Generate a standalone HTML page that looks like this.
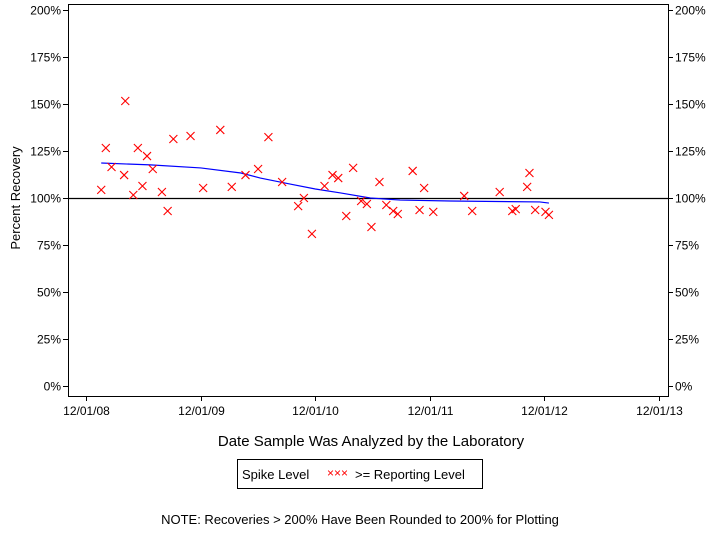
<!DOCTYPE html>
<html><head><meta charset="utf-8"><style>
body{margin:0;background:#fff;width:720px;height:528px;overflow:hidden;font-family:"Liberation Sans",sans-serif}
svg text{font-family:"Liberation Sans",sans-serif}
</style></head><body>
<svg id="chart" width="720" height="528">
<g id="axes"></g><g id="marks"></g>
<text x="371" y="446" font-size="15" text-anchor="middle">Date Sample Was Analyzed by the Laboratory</text>
<text transform="translate(20,198) rotate(-90)" font-size="13" text-anchor="middle">Percent Recovery</text>
<g>
<rect x="237.5" y="459.5" width="245" height="29" fill="none" stroke="#000"/>
<text x="242" y="479" font-size="13">Spike Level</text>
<text x="327" y="477" font-size="12" fill="#f00">×××</text>
<text x="355" y="479" font-size="13">&gt;= Reporting Level</text>
</g>
<text x="360" y="524" font-size="13" text-anchor="middle">NOTE: Recoveries &gt; 200% Have Been Rounded to 200% for Plotting</text>
</svg>
<script>
const xTickLabels=["12/01/08","12/01/09","12/01/10","12/01/11","12/01/12","12/01/13"];
const xTickYears=[2008.917,2009.917,2010.917,2011.917,2012.917,2013.917];
const yTicks=[0,25,50,75,100,125,150,175,200];
const sampleYears=[2009.05,2009.09,2009.14,2009.25,2009.26,2009.33,2009.37,2009.41,2009.45,2009.50,2009.58,2009.63,2009.68,2009.83,2009.94,2010.09,2010.19,2010.31,2010.42,2010.51,2010.63,2010.77,2010.82,2010.89,2011.00,2011.07,2011.12,2011.19,2011.25,2011.32,2011.37,2011.41,2011.48,2011.54,2011.60,2011.64,2011.77,2011.83,2011.87,2011.95,2012.22,2012.29,2012.53,2012.64,2012.67,2012.77,2012.79,2012.84,2012.93,2012.96];
const recoveries=[104.3,126.6,116.5,112.2,151.6,101.6,126.6,106.4,122.3,115.4,103.2,93.1,131.4,133.0,105.3,136.2,105.9,112.2,115.4,132.4,108.5,95.7,100.0,80.9,106.4,112.2,110.6,90.4,116.0,98.4,96.8,84.6,108.5,96.3,93.1,91.5,114.4,93.6,105.3,92.6,101.1,93.1,103.2,93.1,94.1,105.9,113.3,93.6,92.6,91.0];
const trendYears=[2009.05,2009.48,2009.92,2010.27,2010.44,2010.70,2010.92,2011.14,2011.40,2011.66,2012.10,2012.88,2012.96];
const trendValues=[118.6,117.6,116.0,113.3,110.6,107.4,104.8,102.7,100.0,98.9,98.4,97.9,97.3];
const NS="http://www.w3.org/2000/svg";
const L=68,R=668,T=4,B=396;
function xs(y){return 86+(y-2008.917)*114.5;}
function ys(p){return 386-p*1.88;}
const ax=document.getElementById('axes'),mk=document.getElementById('marks');
function mk_(tag,attrs,parent){const e=document.createElementNS(NS,tag);for(const k in attrs)e.setAttribute(k,attrs[k]);parent.appendChild(e);return e;}
const frame=mk_('rect',{x:L+.5,y:T+.5,width:R-L,height:B-T,fill:'none',stroke:'#000'},ax);


yTicks.forEach(v=>{const y=Math.round(ys(v))+.5;
 const t1=mk_('line',{x1:L-5,x2:L,y1:y,y2:y,stroke:'#000'},ax);
 
 
 const t2=mk_('line',{x1:R,x2:R+5,y1:y,y2:y,stroke:'#000'},ax);
 
 
 const a=mk_('text',{x:L-7,y:y+4,'font-size':12,'text-anchor':'end'},ax);a.textContent=v+'%';
 
 
 const b=mk_('text',{x:R+7,y:y+4,'font-size':12},ax);b.textContent=v+'%';
 
 
});
xTickYears.forEach((yr,i)=>{const x=Math.round(xs(yr))+.5;
 const t=mk_('line',{x1:x,x2:x,y1:B,y2:B+5,stroke:'#000'},ax);
 
 
 const lb=mk_('text',{x:x,y:B+19,'font-size':12,'text-anchor':'middle'},ax);lb.textContent=xTickLabels[i];
 
 
});
const ref=mk_('line',{x1:L,x2:R,y1:Math.round(ys(100))+.5,y2:Math.round(ys(100))+.5,stroke:'#000','stroke-width':1.2},ax);


const tr=mk_('polyline',{points:trendYears.map((y,i)=>xs(y)+','+ys(trendValues[i])).join(' '),fill:'none',stroke:'#00f','stroke-width':1.2},mk);


sampleYears.forEach((yr,i)=>{const x=xs(yr),y=ys(recoveries[i]);
 const p=mk_('path',{d:`M${x-4},${y-4}L${x+4},${y+4}M${x-4},${y+4}L${x+4},${y-4}`,stroke:'#f00','stroke-width':1.1,fill:'none'},mk);
 
 
});
</script>
</body></html>
